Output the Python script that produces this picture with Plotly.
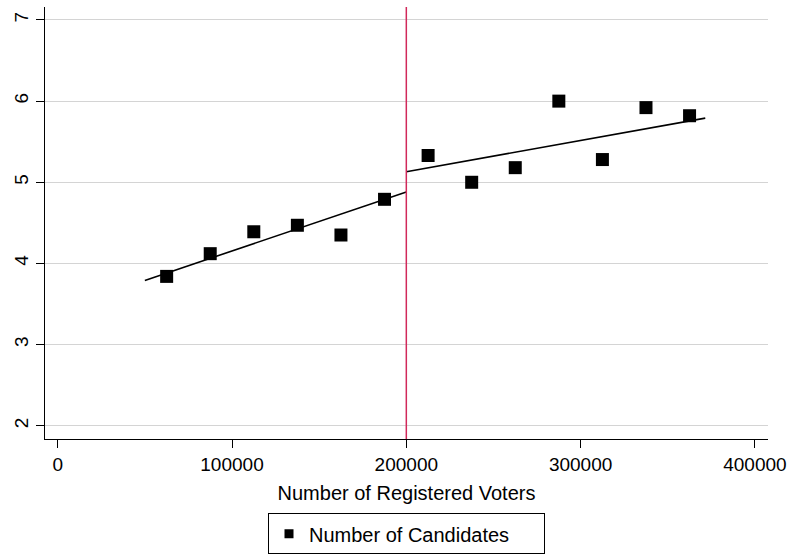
import plotly.graph_objects as go

# Binned means: number of registered voters vs. number of candidates
voters = [62500, 87500, 112500, 137500, 162500, 187500,
          212500, 237500, 262500, 287500, 312500, 337500, 362500]
candidates = [3.84, 4.12, 4.39, 4.47, 4.35, 4.79,
              5.33, 5.00, 5.18, 6.00, 5.28, 5.92, 5.82]

# Fitted lines on each side of the threshold
fit_left_x = [50000, 200000]
fit_left_y = [3.79, 4.88]
fit_right_x = [200000, 371500]
fit_right_y = [5.13, 5.79]

threshold = 200000

x_ticks = [0, 100000, 200000, 300000, 400000]
x_ticktext = ["0", "100000", "200000", "300000", "400000"]
y_ticks = [2, 3, 4, 5, 6, 7]

FONT = "Liberation Sans, Arial, sans-serif"

fig = go.Figure()

fig.add_trace(go.Scatter(
    x=voters, y=candidates, mode="markers",
    marker=dict(symbol="square", size=13, color="black"),
    showlegend=False, hoverinfo="x+y",
))
fig.add_trace(go.Scatter(
    x=fit_left_x, y=fit_left_y, mode="lines",
    line=dict(color="black", width=1.6), showlegend=False,
))
fig.add_trace(go.Scatter(
    x=fit_right_x, y=fit_right_y, mode="lines",
    line=dict(color="black", width=1.6), showlegend=False,
))
# Legend entry with a smaller key symbol
fig.add_trace(go.Scatter(
    x=[None], y=[None], mode="markers",
    marker=dict(symbol="square", size=9, color="black"),
    name="Number of Candidates", showlegend=True,
))

fig.add_shape(
    type="line", xref="x", yref="paper",
    x0=threshold, x1=threshold, y0=0, y1=1,
    line=dict(color="#d1285a", width=1.5),
)

fig.update_layout(
    width=789, height=555,
    margin=dict(l=45, r=21, t=7, b=116, autoexpand=False),
    paper_bgcolor="white", plot_bgcolor="white",
    font=dict(family=FONT, size=19, color="black"),
    showlegend=True,
    legend=dict(
        orientation="h", x=0.5, xanchor="center", y=-0.172, yanchor="top",
        bordercolor="black", borderwidth=1, bgcolor="white",
        font=dict(size=20), itemwidth=30, entrywidth=230,
    ),
    xaxis=dict(
        range=[-7290, 407500],
        tickvals=x_ticks, ticktext=x_ticktext,
        tickfont=dict(size=19),
        ticks="outside", ticklen=8, tickwidth=1.2, tickcolor="black",
        showline=True, linecolor="black", linewidth=1.3,
        showgrid=False, zeroline=False, automargin=False,
        title=dict(text="Number of Registered Voters", standoff=12,
                   font=dict(size=20)),
    ),
    yaxis=dict(
        range=[1.836, 7.16],
        tickvals=y_ticks, tickangle=-90, tickfont=dict(size=19),
        ticks="outside", ticklen=8, tickwidth=1.2, tickcolor="black",
        showline=True, linecolor="black", linewidth=1.3,
        showgrid=True, gridcolor="#d4d4d4", gridwidth=1.2,
        zeroline=False, automargin=False,
    ),
)

fig.write_html("out.html")
